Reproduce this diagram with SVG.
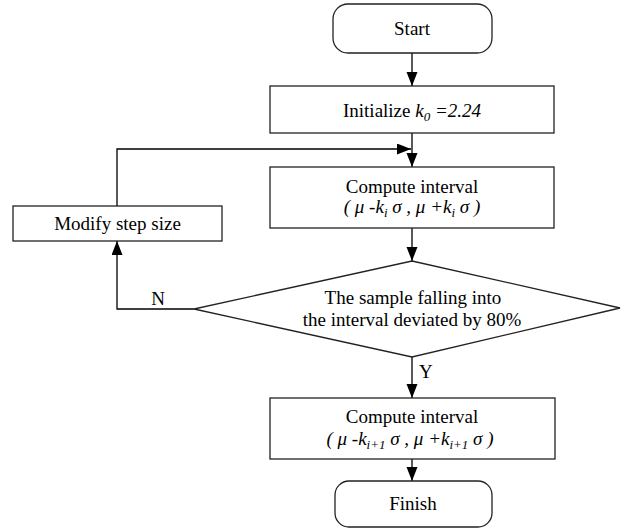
<svg xmlns="http://www.w3.org/2000/svg" width="621" height="528" viewBox="0 0 621 528">
<style>
.b{fill:#fff;stroke:#222;stroke-width:1.3}
.c{fill:none;stroke:#000;stroke-width:1.3}
text{font-family:"Liberation Serif","Times New Roman",serif;font-size:19px;fill:#000}
.m{text-anchor:middle}
.i{font-style:italic}
.s{font-size:13px;font-style:italic}
</style>
<defs>
<marker id="a" markerUnits="userSpaceOnUse" markerWidth="15" markerHeight="12" refX="14" refY="5.5" orient="auto">
<path d="M0,0 L14,5.5 L0,11 z" fill="#000"/>
</marker>
</defs>
<rect width="621" height="528" fill="#fff"/>
<g id="connectors">
<line class="c" x1="412" y1="53" x2="412" y2="86" marker-end="url(#a)"/>
<line class="c" x1="412" y1="133" x2="412" y2="167" marker-end="url(#a)"/>
<polyline class="c" points="117,206 117,149 411,149" marker-end="url(#a)"/>
<line class="c" x1="412" y1="228" x2="412" y2="261" marker-end="url(#a)"/>
<polyline class="c" points="194,309 117,309 117,241" marker-end="url(#a)"/>
<line class="c" x1="412" y1="357" x2="412" y2="398" marker-end="url(#a)"/>
<line class="c" x1="412" y1="459" x2="412" y2="481" marker-end="url(#a)"/>
<text x="158" y="305" class="m">N</text>
<text x="419" y="378">Y</text>
</g>
<g id="start">
<rect class="b" x="333" y="4" width="159" height="49" rx="15"/>
<text x="412" y="35" class="m">Start</text>
</g>
<g id="init">
<rect class="b" x="270" y="86" width="284" height="47"/>
<text x="412" y="117" class="m">Initialize <tspan class="i">k</tspan><tspan class="s" dy="4">0</tspan><tspan class="i" dy="-4"> =2.24</tspan></text>
</g>
<g id="compute1">
<rect class="b" x="270" y="167" width="284" height="61"/>
<text x="412" y="193" class="m">Compute interval</text>
<text x="412" y="213" class="m i">( μ -k<tspan class="s" dy="4">i</tspan><tspan dy="-4"> σ , μ +k</tspan><tspan class="s" dy="4">i</tspan><tspan dy="-4"> σ )</tspan></text>
</g>
<g id="modify">
<rect class="b" x="13" y="206" width="209" height="35"/>
<text x="117.5" y="230" class="m">Modify step size</text>
</g>
<g id="decision">
<polygon class="b" points="412,261 620,308 412,357 194,309"/>
<text x="413" y="304" class="m">The sample falling into</text>
<text x="412" y="326" class="m">the interval deviated by 80%</text>
</g>
<g id="compute2">
<rect class="b" x="270" y="398" width="285" height="61"/>
<text x="412" y="423" class="m">Compute interval</text>
<text x="410" y="445" class="m i">( μ -k<tspan class="s" dy="4">i+1</tspan><tspan dy="-4"> σ , μ +k</tspan><tspan class="s" dy="4">i+1</tspan><tspan dy="-4"> σ )</tspan></text>
</g>
<g id="finish">
<rect class="b" x="335" y="481" width="157" height="46" rx="14"/>
<text x="413" y="510" class="m">Finish</text>
</g>
</svg>
